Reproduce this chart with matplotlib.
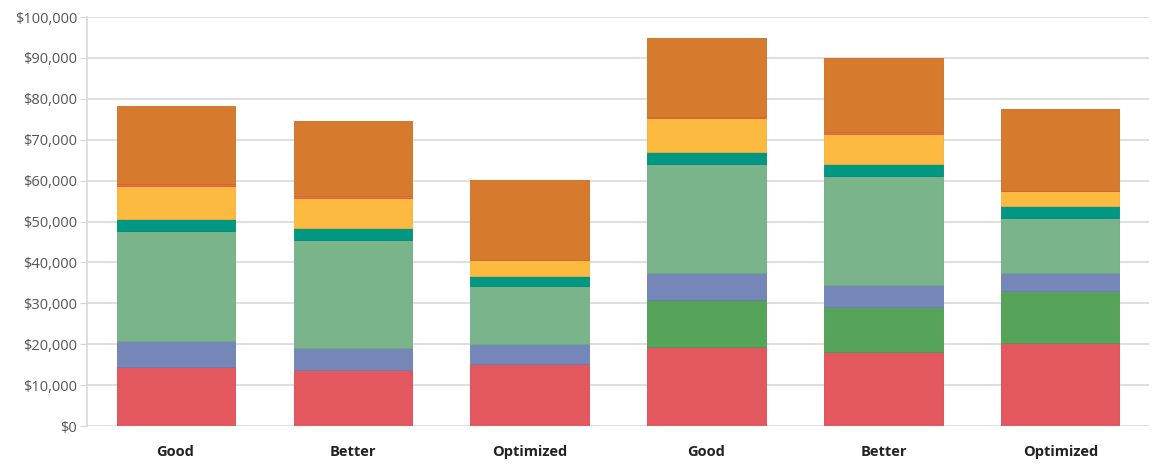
import matplotlib.pyplot as plt
import numpy as np
from matplotlib.ticker import FuncFormatter

plt.rcParams['font.family'] = ['Open Sans', 'DejaVu Sans']

tiers = ["Good", "Better", "Optimized", "Good", "Better", "Optimized"]

# cost components in dollars, stacked bottom to top
base = [14400, 13800, 15200, 19200, 18200, 20200]
extra = [0, 0, 0, 11600, 11000, 12900]
support = [6500, 5300, 4900, 6500, 5300, 4200]
licensing = [26800, 26400, 14100, 26800, 26600, 13600]
training = [2900, 3000, 2600, 3000, 3000, 3000]
hosting = [8200, 7300, 3700, 8100, 7200, 3500]
misc = [250, 400, 0, 400, 600, 0]
labor = [19300, 18400, 19600, 19200, 18100, 20200]

series = [base, extra, support, licensing, training, hosting, misc, labor]
colors = ["#E3585E", "#55A45A", "#7587B8", "#79B48B", "#009883",
          "#FDBA40", "#EE6A50", "#D67B2D"]
edges = ["#D9484E", "#4A9A50", "#6A7CAE", "#6EAA80", "#008A76",
         "#F5AE34", "#E25A40", "#C86E22"]

fig = plt.figure(figsize=(11.53, 4.66), dpi=100)
ax = fig.add_axes([0.0755, 0.0858, 0.921, 0.8777])

x = np.arange(len(tiers))
bottom = np.zeros(len(tiers))
for vals, c, ec in zip(series, colors, edges):
    vals = np.array(vals, dtype=float)
    ax.bar(x, vals, width=0.667, bottom=bottom, color=c,
           edgecolor=ec, linewidth=0.6, zorder=3)
    bottom += vals

ax.set_xlim(-0.5, 5.5)
ax.set_ylim(0, 100000)
ax.set_yticks(np.arange(0, 100001, 10000))
ax.yaxis.set_major_formatter(FuncFormatter(lambda v, p: f"${v:,.0f}"))
ax.set_xticks(x)
ax.set_xticklabels(tiers, fontsize=10.5, fontweight='bold', color='#222222')

ax.grid(axis='y', color='#D6D6D6', linewidth=1.1, zorder=0)
for side in ['top', 'right', 'bottom']:
    ax.spines[side].set_visible(False)
ax.spines['left'].set_color('#D6D6D6')
ax.spines['left'].set_linewidth(1.1)

ax.tick_params(axis='y', length=5, color='#D6D6D6', labelsize=10.5,
               labelcolor='#555555', pad=2)
ax.tick_params(axis='x', length=0, pad=14)

fig.savefig("out.png", dpi=100)
